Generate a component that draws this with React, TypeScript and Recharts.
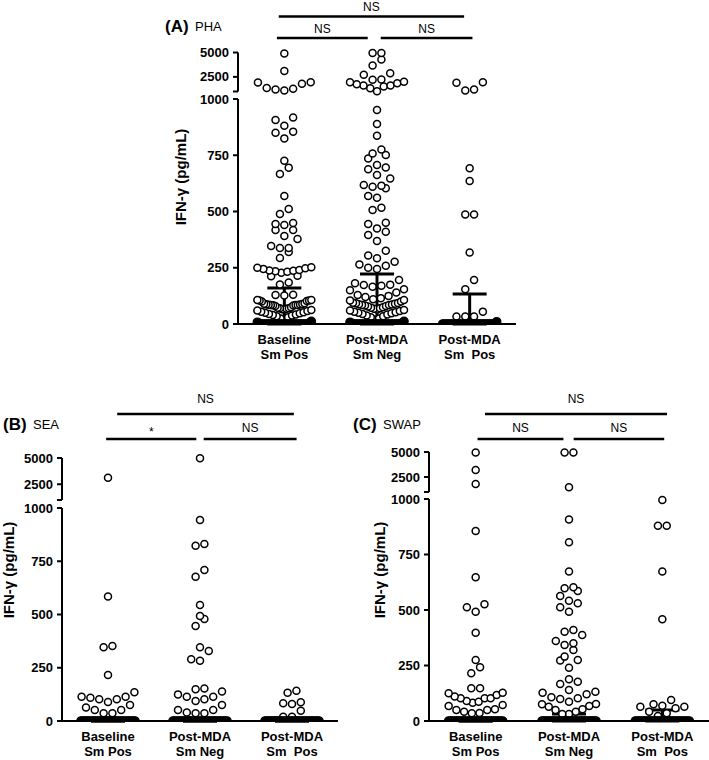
import React from 'react';
import { ScatterChart, Scatter, XAxis, YAxis, ReferenceLine, ErrorBar } from 'recharts';

const FONT = '"Liberation Sans", Arial, Helvetica, sans-serif';

// ---------- category / tick labels ----------
const catLine1 = ['Baseline', 'Post-MDA', 'Post-MDA'];
const catLine2 = ['Sm Pos', 'Sm Neg', 'Sm  Pos'];
const yTickValues = [0, 250, 500, 750, 1000, 2500, 5000];
const yTickLabels = ['0', '250', '500', '750', '1000', '2500', '5000'];

// ---------- (A) PHA ----------
const phaBaselineSmPos = [4900, 3100, 1950, 1930, 1800, 1350, 1280, 1200, 1100,
  918, 907, 881, 855, 850, 825, 726, 695, 667, 569, 511, 489, 449, 444, 440, 418, 418, 391, 378, 347, 338, 338, 320, 293,
  252, 250, 248, 245, 240, 238, 237, 235, 232, 228, 215, 212, 184, 176,
  130, 129, 127, 107, 107, 105, 104, 102, 100,
  92, 90, 89, 88, 87, 86, 85, 85, 84, 83, 82, 80, 74, 72, 70, 70, 68, 66, 65, 62, 60, 58, 55, 52, 50, 48, 45, 42, 40, 38, 35, 30, 25, 20,
  12, 8, 5, 3, 0, 0, 0, 0, 0, 0, 0, 0, 0, 0, 0, 0, 0, 0, 0, 0, 0, 0, 0, 0, 0, 0, 0, 0, 0, 0];
const phaPostSmNeg = [4950, 4950, 4280, 3670, 2880, 2710, 2230, 2200, 1990, 1950, 1850, 1750, 1620, 1620, 1510, 1340, 1030,
  951, 889, 837, 776, 758, 751, 736, 707, 696, 688, 662, 647, 618, 615, 610, 603, 569, 561, 517, 507, 450, 444, 425, 410, 396, 369, 326, 304, 292, 277, 265, 259, 250, 244,
  196, 181, 175, 173, 170, 166, 154, 150, 140, 129, 125, 120, 115, 110, 107, 105, 100, 95, 93, 92, 90, 88, 87, 85, 84, 82, 80, 78, 75, 72, 70, 68, 65, 62, 60, 58, 55, 52, 50, 48, 45, 42, 38, 35, 30, 25, 20,
  12, 8, 5, 3, 0, 0, 0, 0, 0, 0, 0, 0, 0, 0, 0, 0, 0, 0, 0, 0, 0, 0, 0, 0, 0, 0, 0, 0, 0, 0];
const phaPostSmPos = [1950, 1890, 1200, 1100, 692, 636, 487, 487, 318, 196, 154, 55, 33, 33, 33, 10,
  0, 0, 0, 0, 0, 0, 0, 0, 0, 0, 0, 0, 0, 0, 0, 0, 0, 0, 0, 0, 0, 0, 0, 0, 0, 0, 0, 0, 0, 0];
const phaMedian = [0, 0, 0];
const phaUpper = [160, 222, 133];
const phaTests = ['NS', 'NS', 'NS'];

// ---------- (B) SEA ----------
const seaBaselineSmPos = [3120, 584, 352, 346, 216, 135, 114, 114, 109, 102, 102, 89, 75, 63, 52, 52, 36, 36,
  0, 0, 0, 0, 0, 0, 0, 0, 0, 0, 0, 0, 0, 0, 0, 0, 0, 0, 0, 0, 0, 0, 0, 0, 0, 0, 0, 0, 0, 0];
const seaPostSmNeg = [4970, 944, 831, 823, 709, 677, 545, 493, 479, 446, 346, 329, 290, 283, 153, 149, 138, 125, 114, 114, 102, 94, 75, 52, 52, 40, 36, 36,
  0, 0, 0, 0, 0, 0, 0, 0, 0, 0, 0, 0, 0, 0, 0, 0, 0, 0, 0, 0, 0, 0, 0, 0, 0, 0, 0, 0, 0, 0];
const seaPostSmPos = [142, 133, 88, 83, 80, 48, 20, 20,
  0, 0, 0, 0, 0, 0, 0, 0, 0, 0, 0, 0, 0, 0, 0, 0, 0, 0, 0, 0, 0, 0, 0, 0, 0, 0, 0, 0, 0, 0];
const seaMedian = [0, 0, 0];
const seaUpper = [0, 0, 0];
const seaTests = ['NS', '*', 'NS'];

// ---------- (C) SWAP ----------
const swapBaselineSmPos = [4950, 3200, 1800, 856, 648, 526, 512, 492, 398, 275, 242, 215, 147, 147, 127, 125, 117, 110, 102, 102, 102, 90, 87, 82, 72, 68, 53, 50, 50, 42, 36, 35,
  0, 0, 0, 0, 0, 0, 0, 0, 0, 0, 0, 0, 0, 0, 0, 0, 0, 0, 0, 0, 0, 0, 0, 0, 0, 0, 0, 0, 0, 0];
const swapPostSmNeg = [4950, 4950, 1470, 908, 805, 673, 602, 598, 586, 563, 542, 530, 512, 492, 410, 402, 387, 360, 350, 342, 320, 290, 275, 272, 240, 188, 177, 167, 140, 132, 127, 120, 107, 102, 99, 87, 77, 75, 68, 64, 53, 50, 42, 32, 32,
  0, 0, 0, 0, 0, 0, 0, 0, 0, 0, 0, 0, 0, 0, 0, 0, 0, 0, 0, 0, 0, 0, 0, 0, 0, 0, 0, 0, 0, 0];
const swapPostSmPos = [995, 880, 880, 673, 458, 95, 75, 69, 64, 64, 57, 42, 35, 23,
  0, 0, 0, 0, 0, 0, 0, 0, 0, 0, 0, 0, 0, 0, 0, 0, 0, 0, 0, 0, 0, 0, 0, 0, 0, 0, 0, 0, 0, 0];
const swapMedian = [0, 0, 0];
const swapUpper = [0, 32, 50];
const swapTests = ['NS', 'NS', 'NS'];

// ---------- layout constants ----------
const ROW_H = 10;      // px height of a dot row (Prism-like binning)
const DOT_D = 8.8;     // px spacing between dot centres in a row
const MAX_HALF = 27;   // px max half-width of a column
const BAND_MAX = 15;   // values drawn as the solid band at zero

type Bracket = { x1: number; x2: number; rowPx: number; offset: number };
type Cfg = {
  letter: string; stim: string;
  left: number; top: number; yAxisWidth: number; plotWidth: number; marginTop: number; plotHeight: number; xAxisHeight: number;
  pxPer1000: number; gapPx: number; upperPx: number;
  series: number[][]; medians: number[]; uppers: number[]; tests: string[];
  brackets: Bracket[];
  yLabel: { x: number; y: number };
  titleTop: number; titleLeft: number; stimLeft: number;
};

function makeScale(cfg: Cfg) {
  const pxY = cfg.pxPer1000 / 1000;
  const gapU = cfg.gapPx / pxY;
  const k = cfg.upperPx / pxY / 4000;
  const T = (v: number) => (v <= 1000 ? v : 1000 + gapU + (v - 1000) * k);
  return { pxY, gapU, T };
}

type Pt = { x: number; y: number; v: number };

function layout(vals: number[], cat: number, T: (v: number) => number, pxY: number, pxX: number) {
  const sorted = [...vals].sort((a, b) => a - b);
  const band = sorted.filter((v) => v <= BAND_MAX);
  const rest = sorted.filter((v) => v > BAND_MAX);
  const rows: number[][] = [];
  let start = -Infinity;
  for (const v of rest) {
    const py = T(v) * pxY;
    if (rows.length === 0 || py - start >= ROW_H) { rows.push([v]); start = py; }
    else rows[rows.length - 1].push(v);
  }
  const place = (row: number[], out: Pt[]) => {
    const n = row.length;
    const sp = n > 1 ? Math.min(DOT_D, (2 * MAX_HALF) / (n - 1)) : 0;
    const offs = row.map((_, i) => (i - (n - 1) / 2) * sp);
    offs.sort((a, b) => Math.abs(a) - Math.abs(b) || a - b);
    row.forEach((v, i) => out.push({ x: cat + offs[i] / pxX, y: T(v), v }));
  };
  const open: Pt[] = [];
  const filled: Pt[] = [];
  rows.forEach((r) => place(r, open));
  if (band.length) place(band, filled);
  return { open, filled };
}

const panels: Cfg[] = [
  {
    letter: '(A)', stim: 'PHA', left: 150, top: 0, yAxisWidth: 88, plotWidth: 278, marginTop: 5, plotHeight: 319, xAxisHeight: 40,
    pxPer1000: 225, gapPx: 7.5, upperPx: 39,
    series: [phaBaselineSmPos, phaPostSmNeg, phaPostSmPos], medians: phaMedian, uppers: phaUpper, tests: phaTests,
    brackets: [
      { x1: 0.94, x2: 2.94, rowPx: 36, offset: 6 },
      { x1: 0.92, x2: 1.9, rowPx: 14.5, offset: 5 },
      { x1: 2.04, x2: 3.03, rowPx: 14.5, offset: 5 },
    ],
    yLabel: { x: 180, y: 177 }, titleTop: 17.7, titleLeft: 165, stimLeft: 195,
  },
  {
    letter: '(B)', stim: 'SEA', left: 0, top: 388, yAxisWidth: 62, plotWidth: 276, marginTop: 0, plotHeight: 333, xAxisHeight: 39,
    pxPer1000: 213, gapPx: 8, upperPx: 42,
    series: [seaBaselineSmPos, seaPostSmNeg, seaPostSmPos], medians: seaMedian, uppers: seaUpper, tests: seaTests,
    brackets: [
      { x1: 1.1, x2: 3.02, rowPx: 44, offset: 11 },
      { x1: 0.98, x2: 1.96, rowPx: 19, offset: 3 },
      { x1: 2.04, x2: 3.05, rowPx: 19, offset: 7 },
    ],
    yLabel: { x: 8, y: 570 }, titleTop: 415.7, titleLeft: 3, stimLeft: 33,
  },
  {
    letter: '(C)', stim: 'SWAP', left: 350, top: 388, yAxisWidth: 79, plotWidth: 280, marginTop: 0, plotHeight: 333, xAxisHeight: 39,
    pxPer1000: 222, gapPx: 7, upperPx: 40,
    series: [swapBaselineSmPos, swapPostSmNeg, swapPostSmPos], medians: swapMedian, uppers: swapUpper, tests: swapTests,
    brackets: [
      { x1: 1.1, x2: 3.05, rowPx: 38, offset: 11 },
      { x1: 1.02, x2: 1.94, rowPx: 13, offset: 7 },
      { x1: 2.05, x2: 3.02, rowPx: 13, offset: 7 },
    ],
    yLabel: { x: 379, y: 570 }, titleTop: 415.7, titleLeft: 353, stimLeft: 383,
  },
];

const CatTick = (props: any) => {
  const { x, y, payload } = props;
  const i = Math.round(payload.value) - 1;
  return (
    <text x={x} y={y} textAnchor="middle" fill="#000" fontSize={13} fontWeight="bold" fontFamily={FONT}
      xmlSpace="preserve" style={{ whiteSpace: 'pre' }}>
      <tspan x={x} dy={19.5}>{catLine1[i]}</tspan>
      <tspan x={x} dy={15.5}>{catLine2[i]}</tspan>
    </text>
  );
};

const openDot = (p: any) => <circle cx={p.cx} cy={p.cy} r={3.5} fill="#fff" stroke="#000" strokeWidth={1.5} />;
const bandDot = (p: any) => <circle cx={p.cx} cy={p.cy} r={4.2} fill="#000" stroke="#000" strokeWidth={1.2} />;
const medianLine = (p: any) => (
  <line x1={p.cx - 17} x2={p.cx + 17} y1={p.cy} y2={p.cy} stroke="#000" strokeWidth={3} />
);

function Panel({ cfg }: { cfg: Cfg }) {
  const { pxY, gapU, T } = makeScale(cfg);
  const pxX = cfg.plotWidth / 3;
  const yTop = cfg.plotHeight / pxY;
  const open: Pt[] = [];
  const filled: Pt[] = [];
  cfg.series.forEach((vals, i) => {
    const r = layout(vals, i + 1, T, pxY, pxX);
    open.push(...r.open);
    filled.push(...r.filled);
  });
  const summary = cfg.medians.map((m, i) => ({ x: i + 1, y: T(m), err: [0, cfg.uppers[i] - m] }));
  const capU = 1000 + gapU;
  const tickList = yTickValues.map((v) => ({ u: T(v), label: yTickLabels[yTickValues.indexOf(v)] }));
  tickList.push({ u: capU, label: '' });
  tickList.sort((a, b) => a.u - b.u);
  const ticks = tickList.map((t) => t.u);
  const fmt = (u: number) => {
    const f = tickList.find((t) => Math.abs(t.u - u) < 1e-6);
    return f ? f.label : '';
  };
  const top5000 = T(5000);
  const width = cfg.yAxisWidth + cfg.plotWidth;
  const height = cfg.marginTop + cfg.plotHeight + cfg.xAxisHeight;

  return (
    <div style={{ position: 'absolute', left: cfg.left, top: cfg.top, width, height }}>
      <ScatterChart width={width} height={height} margin={{ top: cfg.marginTop, right: 0, bottom: 0, left: 0 }}>
        <XAxis type="number" dataKey="x" domain={[0.5, 3.5]} ticks={[1, 2, 3]} interval={0} allowDataOverflow
          tick={<CatTick />} tickLine={false} tickSize={0} tickMargin={0} height={cfg.xAxisHeight}
          axisLine={{ stroke: '#000', strokeWidth: 2 }} />
        <YAxis type="number" dataKey="y" domain={[0, yTop]} ticks={ticks} interval={0} allowDataOverflow
          tickFormatter={fmt} axisLine={false} tickLine={{ stroke: '#000', strokeWidth: 2 }} tickSize={5} tickMargin={4}
          width={cfg.yAxisWidth} tick={{ fill: '#000', fontSize: 13, fontWeight: 'bold', fontFamily: FONT }} />
        <Scatter data={open} shape={openDot} isAnimationActive={false} />
        <Scatter data={filled} shape={bandDot} isAnimationActive={false} />
        <Scatter data={summary} shape={medianLine} isAnimationActive={false}>
          <ErrorBar dataKey="err" direction="y" width={17} stroke="#000" strokeWidth={3} />
        </Scatter>
        <ReferenceLine ifOverflow="visible" segment={[{ x: 0.5, y: 0 }, { x: 0.5, y: 1000 }]} stroke="#000" strokeWidth={2} />
        <ReferenceLine ifOverflow="visible" segment={[{ x: 0.5, y: capU }, { x: 0.5, y: top5000 }]} stroke="#000" strokeWidth={2} />
        {cfg.brackets.map((b, i) => {
          const yu = top5000 + b.rowPx / pxY;
          return (
            <ReferenceLine key={i} ifOverflow="visible" segment={[{ x: b.x1, y: yu }, { x: b.x2, y: yu }]}
              stroke="#000" strokeWidth={2.5}
              label={{ value: cfg.tests[i], position: 'top', offset: b.offset, fill: '#000', fontSize: 12, fontFamily: FONT }} />
          );
        })}
      </ScatterChart>
    </div>
  );
}

export default function App() {
  return (
    <div style={{ position: 'absolute', left: 0, top: 0, width: 709, height: 760, background: '#fff', fontFamily: FONT, overflow: 'hidden' }}>
      {panels.map((cfg) => (
        <Panel key={cfg.letter} cfg={cfg} />
      ))}
      {panels.map((cfg) => (
        <React.Fragment key={cfg.letter + 't'}>
          <div style={{ position: 'absolute', left: cfg.titleLeft, top: cfg.titleTop, fontSize: 17, lineHeight: '17px', fontWeight: 'bold', whiteSpace: 'nowrap' }}>{cfg.letter}</div>
          <div style={{ position: 'absolute', left: cfg.stimLeft, top: cfg.titleTop + 2.7, fontSize: 13, lineHeight: '13px', whiteSpace: 'nowrap' }}>{cfg.stim}</div>
          <div style={{ position: 'absolute', left: cfg.yLabel.x, top: cfg.yLabel.y, transform: 'translate(-50%, -50%) rotate(-90deg)', fontSize: 15, lineHeight: '15px', fontWeight: 'bold', whiteSpace: 'nowrap' }}>IFN-γ (pg/mL)</div>
        </React.Fragment>
      ))}
    </div>
  );
}
